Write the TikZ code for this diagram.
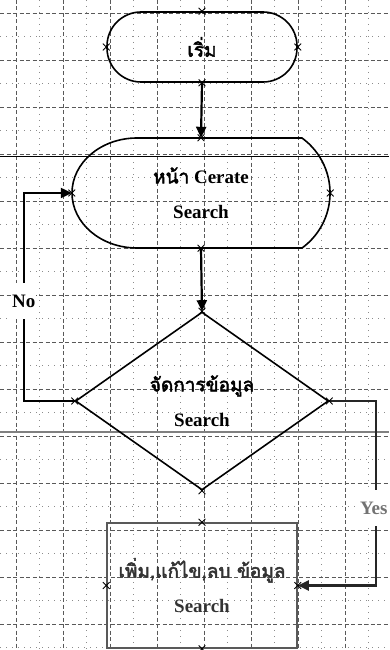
\documentclass[tikz,border=0pt]{standalone}
\usepackage{fontspec}
\setmainfont{Liberation Serif}
\newfontfamily\thaifont[Script=Thai,AutoFakeBold=2.5]{Loma}
\usetikzlibrary{shapes.geometric,shapes.misc,arrows.meta}
\tikzset{
  shapeline/.style={line width=1.6pt},
  flowline/.style={line width=2.2pt,-{Triangle[length=11pt,width=10pt]}},
  boxtext/.style={font=\fontsize{19}{35}\selectfont\bfseries,align=center},
  startbox/.style={shapeline,draw,rounded corners=34pt,minimum width=190pt,minimum height=70pt,boxtext},
  screenbox/.style={minimum width=258pt,minimum height=110pt,boxtext},
  decisionbox/.style={shapeline,draw,diamond,minimum width=253pt,minimum height=178pt,inner sep=0pt,boxtext},
  processbox/.style={shapeline,draw=black!65,text=black!80,minimum width=190pt,minimum height=125pt,boxtext},
  xmark/.style={cross out,draw,minimum size=6pt,inner sep=0pt,line width=0.8pt},
  answer/.style={fill=white,inner sep=0.5pt,minimum height=36pt,font=\fontsize{19}{22}\selectfont\bfseries},
  majorgrid/.style={black!65,line width=0.7pt,dash pattern=on 4pt off 2.5pt},
  minorgrid/.style={black!45,line width=0.7pt,dash pattern=on 1pt off 5pt}
}
\begin{document}
\begin{tikzpicture}[x=1pt,y=1pt]
\useasboundingbox (0,0) rectangle (389,-650);
\clip (0,0) rectangle (389,-650);
\foreach \x in {39.5,86.5,...,370} \draw[minorgrid] (\x,0) -- (\x,-650);
\foreach \y in {36.5,83.5,...,650} \draw[minorgrid] (0,-\y) -- (389,-\y);
\foreach \x in {16,63,...,389} \draw[majorgrid] (\x,0) -- (\x,-650);
\foreach \y in {13,60,...,650} \draw[majorgrid] (0,-\y) -- (389,-\y);
\draw[line width=0.9pt] (0,-156) -- (389,-156);
\draw[black!50,line width=1.1pt] (0,-432) -- (389,-432);

\node[startbox] (start) at (202,-47) {\thaifont เริ่ม};
\draw[shapeline] (137,-138) -- (302,-138) arc[start angle=54,end angle=-54,radius=68]
  -- (137,-248) arc[start angle=270,end angle=90,x radius=65,y radius=55] -- cycle;
\node[screenbox] (screen) at (201,-193) {{\thaifont หน้า} Cerate\\Search};
\node[decisionbox] (decide) at (202,-401) {\thaifont จัดการข้อมูล\\Search};
\node[processbox] (proc) at (202,-585.5) {{\thaifont เพิ่ม,แก้ไข,ลบ ข้อมูล}\\Search};

\draw[flowline] (start.south) -- (screen.north);
\draw[flowline] (screen.south) -- (decide.north);
\draw[flowline] (decide.west) -- ++(-51,0) |- (screen.west) node[answer,pos=0.24] {No};
\draw[flowline,black!85] (decide.east) -- ++(47,0) |- (proc.east) node[answer,text=black!55,pos=0.29,xshift=-2.5pt] {Yes};

\foreach \p in {start.north,start.west,start.east,start.south,
  screen.north,screen.west,screen.east,screen.south,
  decide.north,decide.west,decide.east,decide.south,
  proc.north,proc.west,proc.east,proc.south}
  \node[xmark] at (\p) {};
\end{tikzpicture}
\end{document}
